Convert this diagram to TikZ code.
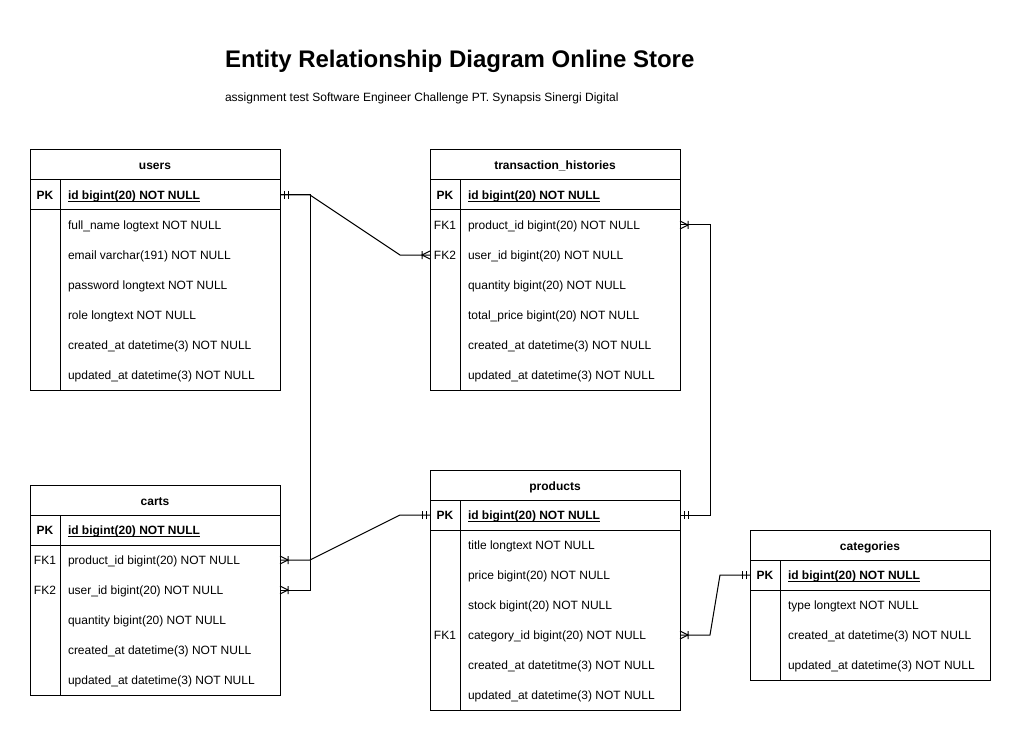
\documentclass[tikz,border=0pt]{standalone}
\usepackage{fontspec}
\setmainfont{Liberation Sans}
\usepackage{tikz}
\usetikzlibrary{positioning, decorations.markings}
\tikzset{
x=1pt, y=-1pt, % one unit is one pixel of the layout, y grows downwards
every picture/.style={line width=1pt},
every node/.style={outer sep=0, font=\fontsize{12}{14}\selectfont}, % default text size
header/.style={anchor=north west, minimum height=30, inner sep=0, text height=10pt, text depth=0pt, font=\fontsize{12}{14}\selectfont\bfseries}, % table name box
rowcell/.style={anchor=north west, minimum height=30, inner sep=0}, % one line of a table
keycell/.style={anchor=base, inner sep=0}, % PK / FK column
fieldcell/.style={anchor=base west, inner sep=0}, % column text
onestart/.style={postaction={decorate, decoration={markings, mark=at position 0 with {\draw[line width=1pt] (4,-4) -- (4,4) (8,-4) -- (8,4);}}}}, % mandatory one
manyend/.style={postaction={decorate, decoration={markings, mark=at position 1 with {\draw[line width=1pt] (-8,-4) -- (-8,4) (0,-4) -- (-8,0) -- (0,4);}}}}, % one or many
}
% bold text with a close underline
\newcommand{\pkfield}[1]{\setbox0\hbox{\bfseries #1}\rlap{\rule[-1.8pt]{\wd0}{0.9pt}}\box0}
% name, x, y, width, title, rows
\newcommand{\ertable}[6]{%
  \node[header, minimum width=#4] (#1) at (#2,#3) {#5};
  \foreach \k/\f [count=\i] in {#6} {
    \node[rowcell, minimum width=#4] (#1-\i) at (#2,{#3+30*\i}) {};
    \node[keycell] (#1-k\i) at ([xshift=15, yshift=-4.8]#1-\i.west) {\k};
    \node[fieldcell] (#1-f\i) at ([xshift=38, yshift=-4.8]#1-\i.west) {\f};
    \xdef\lastrow{\i}
  }
  \draw (#1.north west) rectangle (#1-\lastrow.south east);
  \draw (#1.south west) -- (#1.south east);
  \draw (#1-1.south west) -- (#1-1.south east);
  \draw ([xshift=30]#1-1.north west) -- ([xshift=30]#1-\lastrow.south west);
}

\begin{document}
\begin{tikzpicture}
    \useasboundingbox (0,0) rectangle (1021,741);
    \node[anchor=base west, inner sep=0, font=\fontsize{24}{28}\selectfont\bfseries] (title) at (225,68) {Entity Relationship Diagram Online Store};
    \node[anchor=base west, inner sep=0] (subtitle) at (225,102) {assignment test Software Engineer Challenge PT. Synapsis Sinergi Digital};

    \ertable{users}{30}{150}{250}{users}{
        \textbf{PK}/\pkfield{id bigint(20) NOT NULL},
        {}/full\_name logtext NOT NULL,
        {}/email varchar(191) NOT NULL,
        {}/password longtext NOT NULL,
        {}/role longtext NOT NULL,
        {}/created\_at datetime(3) NOT NULL,
        {}/updated\_at datetime(3) NOT NULL}
    \ertable{th}{430}{150}{250}{transaction\_histories}{
        \textbf{PK}/\pkfield{id bigint(20) NOT NULL},
        FK1/product\_id bigint(20) NOT NULL,
        FK2/user\_id bigint(20) NOT NULL,
        {}/quantity bigint(20) NOT NULL,
        {}/total\_price bigint(20) NOT NULL,
        {}/created\_at datetime(3) NOT NULL,
        {}/updated\_at datetime(3) NOT NULL}
    \ertable{carts}{30}{485}{250}{carts}{
        \textbf{PK}/\pkfield{id bigint(20) NOT NULL},
        FK1/product\_id bigint(20) NOT NULL,
        FK2/user\_id bigint(20) NOT NULL,
        {}/quantity bigint(20) NOT NULL,
        {}/created\_at datetime(3) NOT NULL,
        {}/updated\_at datetime(3) NOT NULL}
    \ertable{products}{430}{470}{250}{products}{
        \textbf{PK}/\pkfield{id bigint(20) NOT NULL},
        {}/title longtext NOT NULL,
        {}/price bigint(20) NOT NULL,
        {}/stock bigint(20) NOT NULL,
        FK1/category\_id bigint(20) NOT NULL,
        {}/created\_at datetitme(3) NOT NULL,
        {}/updated\_at datetime(3) NOT NULL}
    \ertable{categories}{750}{530}{240}{categories}{
        \textbf{PK}/\pkfield{id bigint(20) NOT NULL},
        {}/type longtext NOT NULL,
        {}/created\_at datetime(3) NOT NULL,
        {}/updated\_at datetime(3) NOT NULL}

    % relations
    \draw[onestart, manyend] (users-1.east) -- ++(30,0) -- ([xshift=-30]th-3.west) -- (th-3.west);
    \draw[manyend] (users-1.east) -- ++(30,0) |- (carts-3.east);
    \draw[onestart, manyend] (products-1.west) -- ++(-30,0) -- ([xshift=30]carts-2.east) -- (carts-2.east);
    \draw[onestart, manyend] (products-1.east) -- ++(30,0) |- (th-2.east);
    \draw[onestart, manyend] (categories-1.west) -- ++(-30,0) -- ([xshift=30]products-5.east) -- (products-5.east);
\end{tikzpicture}
\end{document}
